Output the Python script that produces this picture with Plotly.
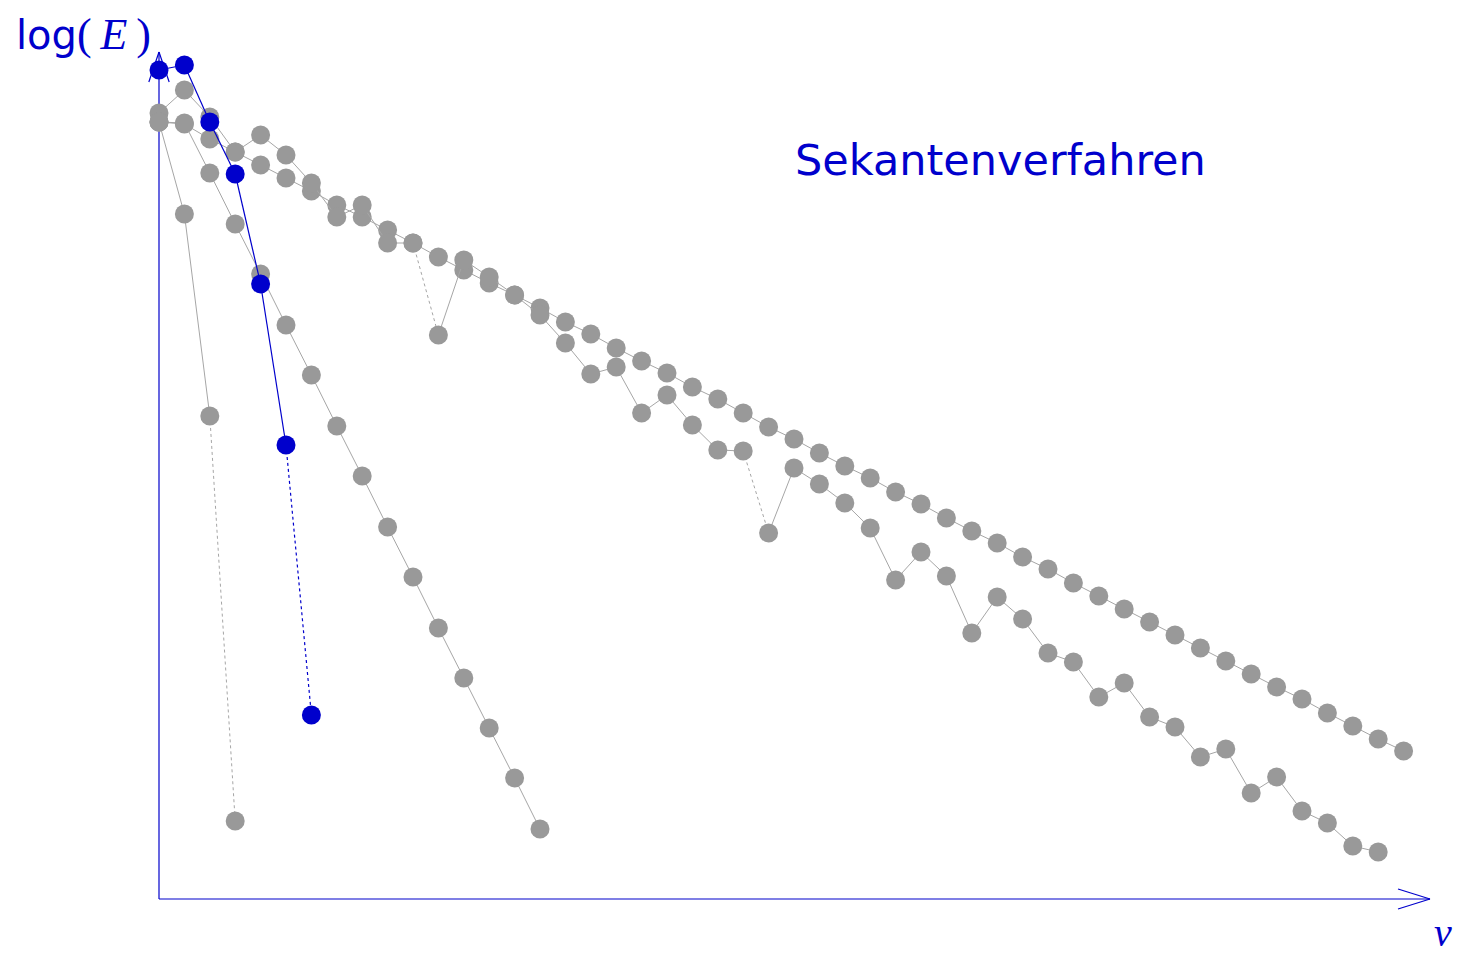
import plotly.graph_objects as go

# ---------------- data (log10 of error vs. iteration nu) ----------------
# steep grey series (4 iterations)
series_a = [-1.04, -2.88, -6.92, -15.02]
# medium grey series (16 iterations)
series_b = [-1.04, -1.06, -2.06, -3.08, -4.08, -5.10, -6.10, -7.12, -8.12, -9.14,
            -10.14, -11.16, -12.16, -13.16, -14.16, -15.18]
# grey series with dips (49 iterations)
series_c = [-0.86, -0.40, -0.94, -1.64, -1.30, -1.70, -2.26, -2.94, -2.70, -3.46,
            -3.46, -5.30, -3.80, -4.14, -4.50, -4.90, -5.46, -6.08, -5.94, -6.86,
            -6.50, -7.10, -7.60, -7.62, -9.26, -7.96, -8.28, -8.66, -9.16, -10.20,
            -9.64, -10.12, -11.26, -10.54, -10.98, -11.66, -11.84, -12.54, -12.26, -12.94,
            -13.14, -13.74, -13.58, -14.46, -14.14, -14.82, -15.06, -15.52, -15.64]
# straight grey series (50 iterations)
series_d = [-1.04, -1.08, -1.38, -1.64, -1.90, -2.16, -2.42, -2.70, -2.94, -3.20,
            -3.46, -3.74, -4.00, -4.26, -4.50, -4.76, -5.04, -5.28, -5.56, -5.82,
            -6.06, -6.34, -6.58, -6.86, -7.14, -7.38, -7.66, -7.92, -8.16, -8.44,
            -8.68, -8.96, -9.22, -9.46, -9.74, -9.98, -10.26, -10.52, -10.78, -11.04,
            -11.30, -11.56, -11.82, -12.08, -12.34, -12.58, -12.86, -13.12, -13.38, -13.62]
# highlighted series: secant method
series_secant = [0.00, 0.10, -1.04, -2.08, -4.28, -7.50, -12.90]

# segments (start index) drawn dotted
dotted_a = [2]
dotted_c = [10, 23]
dotted_secant = [5]

title_text = "Sekantenverfahren"

# ---------------- styling ----------------
BLUE = "#0000CC"
GREY = "#999999"
GREY_LINE = "#a6a6a6"
Y_AXIS_LEVEL = -16.58   # log(E) value where the nu-axis sits

W, H = 1455, 948        # page has an 8px body margin
OFF = 8

fig = go.Figure()


def add_series(ys, dotted, line_color, marker_color, width):
    xs = list(range(len(ys)))
    sx, sy = [], []
    for i in range(len(ys) - 1):
        if i in dotted:
            continue
        sx += [xs[i], xs[i + 1], None]
        sy += [ys[i], ys[i + 1], None]
    fig.add_trace(go.Scatter(x=sx, y=sy, mode="lines",
                             line=dict(color=line_color, width=width),
                             hoverinfo="skip", showlegend=False))
    dx, dy = [], []
    for i in dotted:
        dx += [xs[i], xs[i + 1], None]
        dy += [ys[i], ys[i + 1], None]
    if dx:
        fig.add_trace(go.Scatter(x=dx, y=dy, mode="lines",
                                 line=dict(color=line_color, width=width, dash="dot"),
                                 hoverinfo="skip", showlegend=False))
    fig.add_trace(go.Scatter(x=xs, y=ys, mode="markers",
                             marker=dict(color=marker_color, size=19, line=dict(width=0)),
                             showlegend=False))


add_series(series_d, [], GREY_LINE, GREY, 1)
add_series(series_c, dotted_c, GREY_LINE, GREY, 1)
add_series(series_b, [], GREY_LINE, GREY, 1)
add_series(series_a, dotted_a, GREY_LINE, GREY, 1)
add_series(series_secant, dotted_secant, BLUE, BLUE, 1.2)

# ---------------- axes drawn as arrows ----------------
x_end = 50.04
y_top = 0.36
shapes = [
    dict(type="line", x0=0, y0=Y_AXIS_LEVEL, x1=x_end, y1=Y_AXIS_LEVEL),
    dict(type="line", x0=x_end - 1.26, y0=Y_AXIS_LEVEL + 0.2, x1=x_end, y1=Y_AXIS_LEVEL),
    dict(type="line", x0=x_end - 1.26, y0=Y_AXIS_LEVEL - 0.2, x1=x_end, y1=Y_AXIS_LEVEL),
    dict(type="line", x0=0, y0=Y_AXIS_LEVEL, x1=0, y1=y_top),
    dict(type="line", x0=-0.40, y0=y_top - 0.6, x1=0, y1=y_top),
    dict(type="line", x0=0.40, y0=y_top - 0.6, x1=0, y1=y_top),
]
for s in shapes:
    s.update(xref="x", yref="y", line=dict(color=BLUE, width=1.2), layer="below")


def px(xp, yp):
    return (xp - OFF) / W, 1 - (yp - OFF) / H


SERIF = "font-family:'Liberation Serif', serif; font-size:44px"
ax1, ay1 = px(15, 34)
ax2, ay2 = px(1000, 160)
ax3, _ = px(1443, 940)
annotations = [
    dict(text=('log<span style="%s">(\u2009<i>E</i>\u2009)</span>' % SERIF),
         xref="paper", yref="paper", x=ax1, y=ay1, borderpad=0,
         xanchor="left", yanchor="middle", showarrow=False,
         font=dict(family="DejaVu Sans", size=40, color=BLUE)),
    dict(text=title_text, xref="paper", yref="paper", x=ax2, y=ay2,
         xanchor="center", yanchor="middle", showarrow=False,
         font=dict(family="DejaVu Sans", size=43, color=BLUE)),
    dict(text="<i>ν</i>", xref="paper", yref="paper", x=ax3, y=0.0, borderpad=0,
         xanchor="center", yanchor="bottom", showarrow=False,
         font=dict(family="Liberation Serif", size=40, color=BLUE)),
]

fig.update_layout(
    width=W, height=H,
    margin=dict(l=0, r=0, t=0, b=0),
    paper_bgcolor="white", plot_bgcolor="white",
    xaxis=dict(range=[-(159 - OFF) / 25.4, (W - (159 - OFF)) / 25.4], visible=False, fixedrange=True),
    yaxis=dict(range=[(70 - OFF - H) / 50.0, (70 - OFF) / 50.0], visible=False, fixedrange=True),
    shapes=shapes, annotations=annotations, showlegend=False,
)

fig.write_html("out.html")
